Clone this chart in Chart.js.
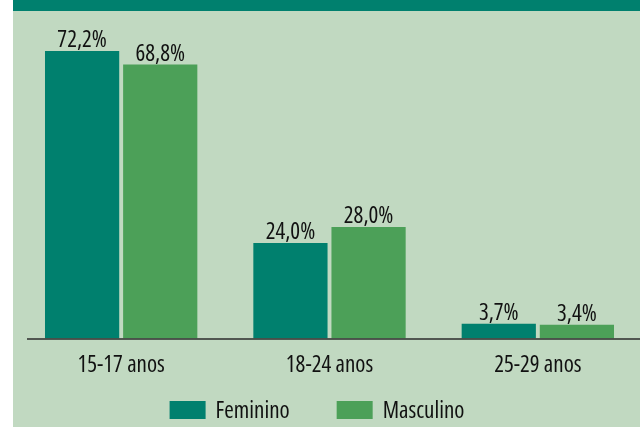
<!DOCTYPE html>
<html>
<head>
<meta charset="utf-8">
<script src="https://cdn.jsdelivr.net/npm/chart.js@4.4.0/dist/chart.umd.min.js"></script>
<style>
  html, body { margin: 0; padding: 0; background: #ffffff; }
  body { width: 640px; height: 427px; overflow: hidden; position: relative; }
  #panel { position: absolute; left: 13px; top: 0; width: 627px; height: 427px; background: #c1d9c1; }
  #band { position: absolute; left: 13px; top: 0; width: 627px; height: 11px; background: #00806e; }
  #wrap { position: absolute; left: 0; top: 0; width: 650px; height: 427px; }
</style>
</head>
<body>
<div id="panel"></div>
<div id="band"></div>
<div id="wrap"><canvas id="faixaChart"></canvas></div>
<script>
// faixas etárias e percentuais por sexo
var categorias = ['15-17 anos', '18-24 anos', '25-29 anos'];
var feminino = [72.2, 24.0, 3.7];
var masculino = [68.8, 28.0, 3.4];
var nomesSeries = ['Feminino', 'Masculino'];

var corFem = '#00806e';
var corMasc = '#4ca058';
var fonte = "'Open Sans', sans-serif";
var estreita = 'condensed'; // vai no lugar do peso, vira "condensed 23px 'Open Sans'"
var tamFonte = 23;
var fonteCanvas = estreita + ' ' + tamFonte + 'px ' + fonte;

// rótulos de valor acima das barras, com vírgula decimal
var rotulosPlugin = {
    id: 'rotulos',
    afterDatasetsDraw: function (chart) {
        var ctx = chart.ctx;
        ctx.save();
        ctx.font = fonteCanvas;
        ctx.fillStyle = '#111111';
        ctx.textAlign = 'center';
        ctx.textBaseline = 'alphabetic';
        chart.data.datasets.forEach(function (ds, i) {
            chart.getDatasetMeta(i).data.forEach(function (bar, j) {
                var txt = ds.data[j].toFixed(1).replace('.', ',') + '%';
                ctx.fillText(txt, bar.x, bar.y - 4);
            });
        });
        ctx.restore();
    }
};

// linha do eixo e legenda desenhadas à mão
var eixoLegendaPlugin = {
    id: 'eixoLegenda',
    afterDraw: function (chart) {
        var ctx = chart.ctx;
        var area = chart.chartArea;
        var y0 = chart.scales.y.getPixelForValue(0);
        ctx.save();
        ctx.strokeStyle = '#2b2b2b';
        ctx.lineWidth = 1.5;
        ctx.beginPath();
        ctx.moveTo(area.left + 10, y0 + 0.5);
        ctx.lineTo(640, y0 + 0.5);
        ctx.stroke();

        // legenda
        ctx.font = fonteCanvas;
        ctx.textBaseline = 'middle';
        ctx.textAlign = 'left';
        var caixaL = 36, caixaA = 18, vao = 10, espaco = 47;
        var itens = chart.data.datasets.map(function (ds) {
            return { nome: ds.label, cor: ds.backgroundColor, w: ctx.measureText(ds.label).width };
        });
        var total = 0;
        itens.forEach(function (it, k) {
            total += caixaL + vao + it.w + (k > 0 ? espaco : 0);
        });
        var x = 317 - total / 2;
        var yc = 410;
        itens.forEach(function (it) {
            ctx.fillStyle = it.cor;
            ctx.fillRect(x, yc - caixaA / 2, caixaL, caixaA);
            ctx.fillStyle = '#111111';
            ctx.fillText(it.nome, x + caixaL + vao, yc + 1);
            x += caixaL + vao + it.w + espaco;
        });
        ctx.restore();
    }
};

var ctx = document.getElementById('faixaChart').getContext('2d');

var data = {
    labels: categorias,
    datasets: [{
        label: nomesSeries[0],
        data: feminino,
        backgroundColor: corFem,
        categoryPercentage: 0.75,
        barPercentage: 0.95
    }, {
        label: nomesSeries[1],
        data: masculino,
        backgroundColor: corMasc,
        categoryPercentage: 0.75,
        barPercentage: 0.95
    }]
};

var options = {
    responsive: false,
    animation: false,
    layout: {
        padding: { left: 17, right: 8, top: 20, bottom: 35 }
    },
    plugins: {
        legend: { display: false },
        tooltip: { enabled: false }
    },
    scales: {
        x: {
            grid: { display: false, drawTicks: false },
            border: { display: false },
            ticks: {
                color: '#111111',
                padding: 13,
                font: { family: fonte, size: tamFonte, weight: estreita }
            }
        },
        y: {
            display: false,
            min: 0,
            max: 80
        }
    }
};

var canvas = document.getElementById('faixaChart');
canvas.width = 650;
canvas.height = 427;

var faixaChart = new Chart(ctx, {
    type: 'bar',
    data: data,
    options: options,
    plugins: [rotulosPlugin, eixoLegendaPlugin]
});
</script>
</body>
</html>
